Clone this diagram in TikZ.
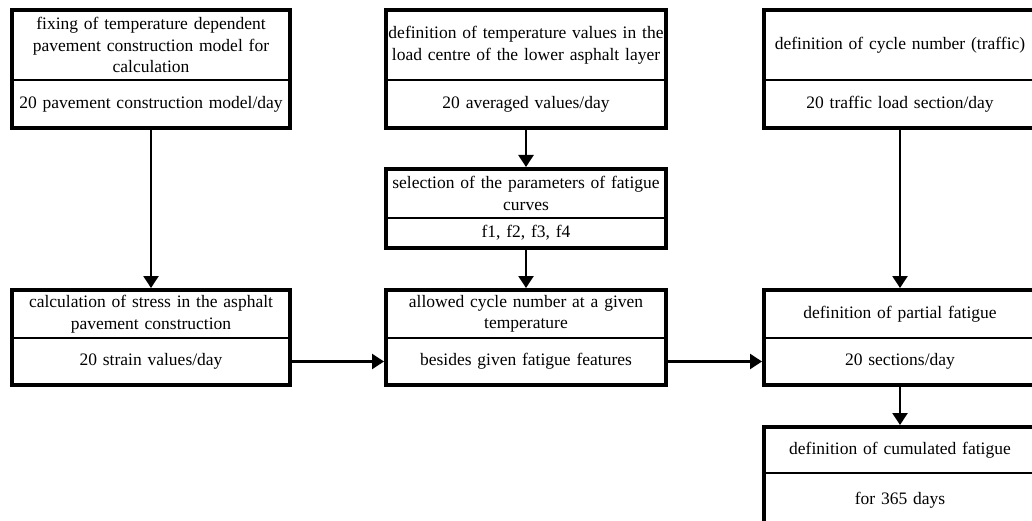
\documentclass[tikz,border=0pt]{standalone}
\usepackage{fontspec}
\setmainfont{Liberation Serif}
\usetikzlibrary{arrows.meta}
\tikzset{
  cell/.style={draw, line width=1.6pt, inner sep=0pt, outer sep=0pt,
    anchor=north west, align=center, font=\fontsize{17.5}{21.5}\selectfont},
  frame/.style={draw, line width=4pt, line join=miter},
  flow/.style={line width=2.4pt, -{Triangle[width=15pt,length=12pt]},
    shorten <=2pt, shorten >=2pt}
}

\begin{document}
\begin{tikzpicture}[x=1pt,y=-1pt]
  \useasboundingbox (0,0) rectangle (1032,521);

  % top row
  \node[cell, minimum width=278pt, minimum height=70pt, text width=274pt]
    (A) at (12,10) {fixing of temperature dependent\\pavement construction model for\\calculation};
  \node[cell, minimum width=278pt, minimum height=48pt, text width=274pt]
    (A2) at (12,80) {20 pavement construction model/day};
  \node[cell, minimum width=280pt, minimum height=70pt, text width=276pt]
    (B) at (386,10) {\mbox{definition of temperature values in the}\\load centre of the lower asphalt layer};
  \node[cell, minimum width=280pt, minimum height=48pt, text width=276pt]
    (B2) at (386,80) {20 averaged values/day};
  \node[cell, minimum width=272pt, minimum height=70pt, text width=268pt]
    (C) at (764,10) {definition of cycle number (traffic)};
  \node[cell, minimum width=272pt, minimum height=48pt, text width=268pt]
    (C2) at (764,80) {20 traffic load section/day};

  % fatigue curve parameters
  \node[cell, minimum width=280pt, minimum height=49pt, text width=276pt]
    (D) at (386,169) {selection of the parameters of fatigue\\curves};
  \node[cell, minimum width=280pt, minimum height=30pt, text width=276pt]
    (D2) at (386,218) {f1, f2, f3, f4};

  % middle row
  \node[cell, minimum width=278pt, minimum height=48pt, text width=274pt]
    (E) at (12,290) {calculation of stress in the asphalt\\pavement construction};
  \node[cell, minimum width=278pt, minimum height=47pt, text width=274pt]
    (E2) at (12,338) {20 strain values/day};
  \node[cell, minimum width=280pt, minimum height=48pt, text width=276pt]
    (F) at (386,290) {allowed cycle number at a given\\temperature};
  \node[cell, minimum width=280pt, minimum height=47pt, text width=276pt]
    (F2) at (386,338) {besides given fatigue features};
  \node[cell, minimum width=272pt, minimum height=48pt, text width=268pt]
    (G) at (764,290) {definition of partial fatigue};
  \node[cell, minimum width=272pt, minimum height=47pt, text width=268pt]
    (G2) at (764,338) {20 sections/day};

  % cumulated
  \node[cell, minimum width=272pt, minimum height=46pt, text width=268pt]
    (H) at (764,427) {definition of cumulated fatigue};
  \node[cell, minimum width=272pt, minimum height=55pt, text width=268pt]
    (H2) at (764,473) {for 365 days};

  \foreach \n in {A,B,C,D,E,F,G,H}
    \draw[frame] (\n.north west) rectangle (\n2.south east);

  \draw[flow] (A2.south) -- (E.north);
  \draw[flow] (B2.south) -- (D.north);
  \draw[flow] (D2.south) -- (F.north);
  \draw[flow] (C2.south) -- (G.north);
  \draw[flow] (E2.east) -- (F2.west);
  \draw[flow] (F2.east) -- (G2.west);
  \draw[flow] (G2.south) -- (H.north);
\end{tikzpicture}
\end{document}
